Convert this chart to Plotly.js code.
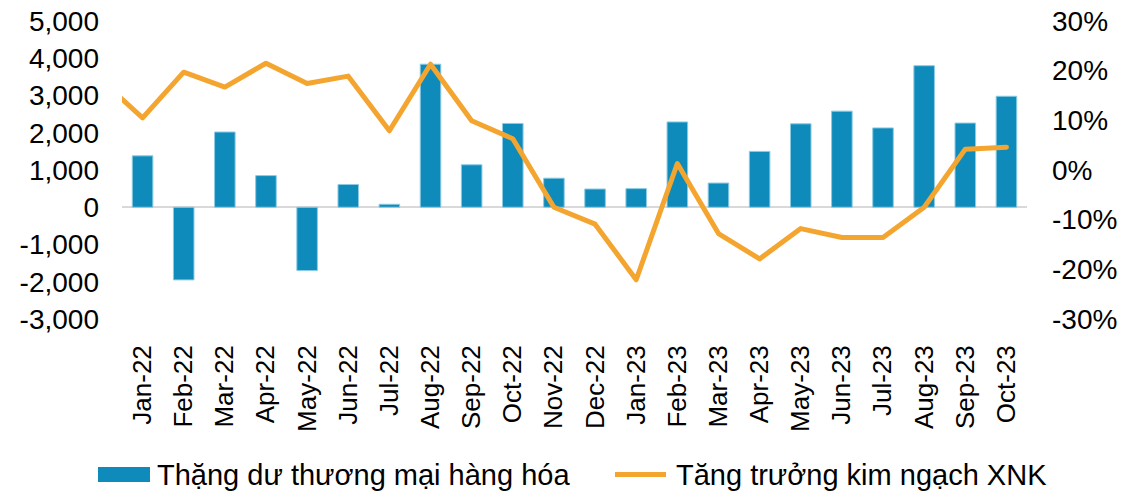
<!DOCTYPE html>
<html>
<head>
<meta charset="utf-8">
<script src="https://cdn.plot.ly/plotly-3.0.1.min.js"></script>
<style>
  html, body { margin: 0; padding: 0; background: #fff; }
  #chart { width: 1136px; height: 492px; }
  #chart .scatterlayer path.js-line { stroke-linejoin: round !important; stroke-linecap: round !important; }
</style>
</head>
<body>
<div id="chart"></div>
<script>
// ---- data ----
var months = ["Jan-22","Feb-22","Mar-22","Apr-22","May-22","Jun-22","Jul-22","Aug-22","Sep-22","Oct-22","Nov-22","Dec-22",
              "Jan-23","Feb-23","Mar-23","Apr-23","May-23","Jun-23","Jul-23","Aug-23","Sep-23","Oct-23"];
// Trade surplus (USD mn)
var surplus = [1380, -1950, 2020, 850, -1700, 610, 80, 3840, 1140, 2250, 780, 490,
               500, 2290, 650, 1500, 2240, 2580, 2130, 3800, 2260, 2980];
// Import-export growth (%); the previous month (Dec-21) is only partly visible at the left edge
var growthPrevMonth = 18.0;
var growth = [10.5, 19.7, 16.7, 21.5, 17.4, 18.9, 7.9, 21.3, 9.9, 6.3, -7.5, -10.9,
              -22.1, 1.3, -12.8, -17.9, -11.8, -13.6, -13.6, -7.5, 4.2, 4.6];
var leftTicks = [-3000, -2000, -1000, 0, 1000, 2000, 3000, 4000, 5000];
var leftTickText = ["-3,000", "-2,000", "-1,000", "0", "1,000", "2,000", "3,000", "4,000", "5,000"];
var rightTicks = [-30, -20, -10, 0, 10, 20, 30];
var rightTickText = ["-30%", "-20%", "-10%", "0%", "10%", "20%", "30%"];
var seriesNames = ["Thặng dư thương mại hàng hóa", "Tăng trưởng kim ngạch XNK"];

// ---- build ----
var idx = months.map(function (m, i) { return i; });
var lineX = [-1].concat(idx);
var lineY = [growthPrevMonth].concat(growth);

var FONT = "Liberation Sans, Arial, sans-serif";
var BLUE = "#0E8BBA";
var ORANGE = "#F4A52F";

var W = 1136, H = 492;
var L = 122, R = 109, T = 21, B = 173;
var plotW = W - L - R, plotH = H - T - B;
function px2x(px) { return (px - L) / plotW; }
function px2y(py) { return (H - B - py) / plotH; }

var traces = [
  {
    type: "bar",
    x: idx,
    y: surplus,
    name: seriesNames[0],
    width: 0.5,
    marker: { color: BLUE, line: { color: "#8CCBE3", width: 1 } },
    yaxis: "y",
    showlegend: false
  },
  {
    type: "scatter",
    mode: "lines",
    x: lineX,
    y: lineY,
    name: seriesNames[1],
    line: { color: ORANGE, width: 5 },
    yaxis: "y2",
    showlegend: false
  }
];

var legendY = 474.5;
var layout = {
  width: W, height: H,
  margin: { l: L, r: R, t: T, b: B, pad: 0 },
  paper_bgcolor: "#fff",
  plot_bgcolor: "#fff",
  font: { family: FONT, color: "#000", size: 28 },
  showlegend: false,
  xaxis: {
    range: [-0.5, 21.5],
    tickvals: idx,
    ticktext: months,
    tickangle: -90,
    ticks: "",
    showgrid: false,
    zeroline: false,
    showline: false,
    tickfont: { family: FONT, size: 26, color: "#000" },
    ticklabelstandoff: 20,
    fixedrange: true
  },
  yaxis: {
    range: [-3000, 5000],
    tickvals: leftTicks,
    ticktext: leftTickText,
    ticks: "",
    showgrid: false,
    showline: false,
    zeroline: true,
    zerolinecolor: "#D9D9D9",
    zerolinewidth: 2,
    tickfont: { family: FONT, size: 28, color: "#000" },
    ticklabelstandoff: 22
  },
  yaxis2: {
    range: [-30, 30],
    overlaying: "y",
    side: "right",
    tickvals: rightTicks,
    ticktext: rightTickText,
    ticks: "",
    showgrid: false,
    showline: false,
    zeroline: false,
    tickfont: { family: FONT, size: 28, color: "#000" },
    ticklabelstandoff: 24
  },
  shapes: [
    { type: "rect", xref: "paper", yref: "paper",
      x0: px2x(98), x1: px2x(150), y0: px2y(482), y1: px2y(467),
      fillcolor: BLUE, line: { width: 0 } },
    { type: "line", xref: "paper", yref: "paper",
      x0: px2x(615), x1: px2x(666), y0: px2y(legendY), y1: px2y(legendY),
      line: { color: ORANGE, width: 5 } }
  ],
  annotations: [
    { xref: "paper", yref: "paper", x: px2x(155), y: px2y(legendY),
      xanchor: "left", yanchor: "middle", showarrow: false,
      text: seriesNames[0], font: { family: FONT, size: 29, color: "#000" } },
    { xref: "paper", yref: "paper", x: px2x(674), y: px2y(legendY),
      xanchor: "left", yanchor: "middle", showarrow: false,
      text: seriesNames[1], font: { family: FONT, size: 29, color: "#000" } }
  ]
};

Plotly.newPlot("chart", traces, layout, { displayModeBar: false, staticPlot: true });
</script>
</body>
</html>
